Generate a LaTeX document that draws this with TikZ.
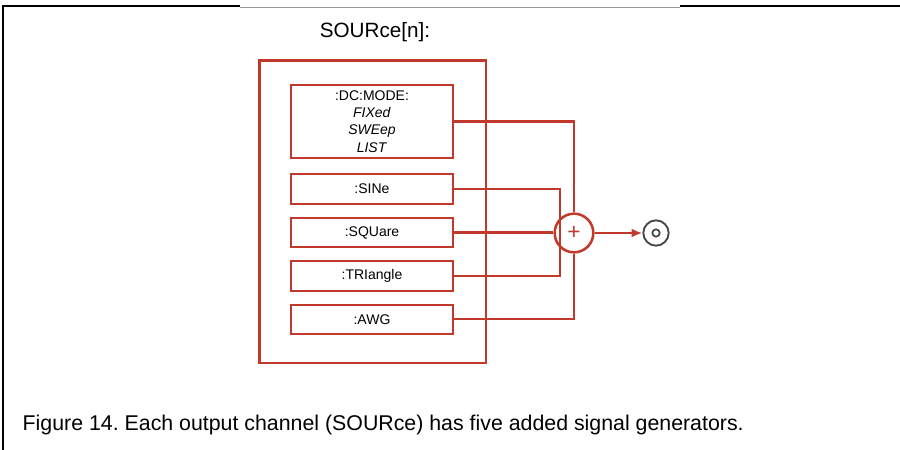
\documentclass[tikz,border=0pt]{standalone}
\usepackage{fontspec}
\setmainfont{Liberation Sans}
\usepackage{xcolor}
\usepackage{tikz}
\usetikzlibrary{arrows.meta, positioning}
\definecolor{srcred}{RGB}{192,57,43}
\definecolor{termgray}{RGB}{70,70,70}
\frenchspacing

\begin{document}
\begin{tikzpicture}[
  x=0.75pt, y=-0.75pt,
  node distance=9pt,
  genbox/.style={rectangle, draw=srcred, line width=1.6pt, minimum width=121.5pt, minimum height=22pt, inner sep=2pt, font=\fontsize{10.5}{13}\selectfont},
  wire/.style={draw=srcred, line width=1.6pt}
]
\useasboundingbox (0,0) rectangle (900,450);
\draw [line width=2pt] (3,451) -- (3,6) -- (240,6);
\draw [line width=0.6pt, black!40] (240,7) -- (680,7);
\draw [line width=2pt] (680,6) -- (901,6);

\node (title) at (375,32) {\fontsize{15.5}{18}\selectfont SOURce[n]:};
\node [rectangle, draw=srcred, line width=2pt, minimum width=170pt, minimum height=227pt] (source) at (372.5,211.5) {};

\node [genbox, minimum height=55pt, inner sep=1pt, align=center] (dcmode) at (372,121.5)
  {:DC:MODE:\\ \textit{FIXed}\\ \textit{SWEep}\\ \textit{LIST}};
\node [genbox, below=10.5pt of dcmode] (sine) {:SINe};
\node [genbox, below=of sine] (square) {:SQUare};
\node [genbox, below=of square] (triangle) {:TRIangle};
\node [genbox, below=of triangle] (awg) {:AWG};

\node [circle, draw=srcred, line width=1.9pt, minimum size=29pt, inner sep=0pt, text=srcred, font=\fontsize{17}{17}\selectfont] (sum) at (574,233) {+};
\node [circle, draw=termgray, line width=1.4pt, minimum size=19pt, inner sep=0pt] (out) at (656,233) {};
\node [circle, draw=termgray, line width=1.3pt, minimum size=5.5pt, inner sep=0pt] (outpin) at (out.center) {};

\draw [wire] (dcmode.east) -| (sum.north);
\draw [wire] (sine.east) -| ([xshift=-10.5pt]sum.center) |- (triangle.east);
\draw [wire] (square.east) -- (square.east -| sum.west);
\draw [wire] (awg.east) -| (sum.south);
\draw [wire, -{Latex[length=8pt, width=6.5pt]}] (sum.east) -- (out.west);

\node [anchor=west] (caption) at (18,425) {\fontsize{16}{19}\selectfont Figure 14. Each output channel (SOURce) has five added signal generators.};
\end{tikzpicture}
\end{document}
